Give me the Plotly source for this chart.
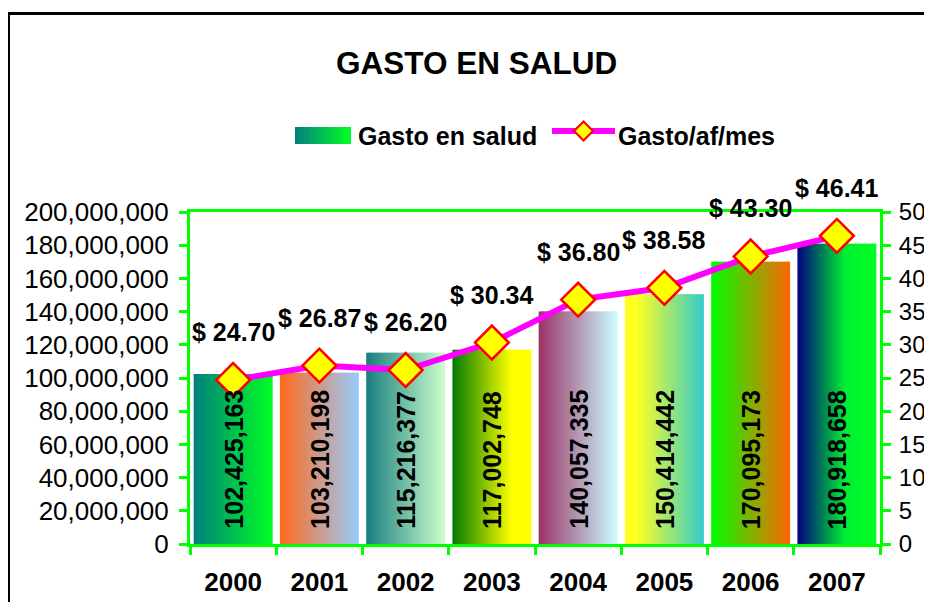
import plotly.graph_objects as go

# ---------------- data ----------------
years = ["2000", "2001", "2002", "2003", "2004", "2005", "2006", "2007"]
gasto_salud = [102425163, 103210198, 115216377, 117002748, 140057335, 150414442, 170095173, 180918658]
gasto_af_mes = [24.70, 26.87, 26.20, 30.34, 36.80, 38.58, 43.30, 46.41]
left_ticks = [0, 20000000, 40000000, 60000000, 80000000, 100000000, 120000000, 140000000, 160000000, 180000000, 200000000]
right_ticks = [0, 5, 10, 15, 20, 25, 30, 35, 40, 45, 50]

# ---------------- styles ----------------
gradients = [
    [(0, "#007F7F"), (1, "#00FF22")],
    [(0, "#FF6A1A"), (1, "#99CCFF")],
    [(0, "#1A7F80"), (1, "#CCFFCC")],
    [(0, "#007A00"), (0.75, "#FFFF00"), (1, "#FFFF00")],
    [(0, "#993366"), (1, "#CCFFFF")],
    [(0, "#FFFF22"), (0.15, "#FFFF22"), (1, "#33CCCC")],
    [(0, "#00FF00"), (1, "#FF6600")],
    [(0, "#000080"), (0.6, "#00EE33"), (1, "#00FF22")],
]
GREEN = "#00FF00"
FONT = "Arial, Liberation Sans, sans-serif"


def hex2rgb(h):
    h = h.lstrip("#")
    return [int(h[i:i + 2], 16) for i in (0, 2, 4)]


def grad_color(stops, t):
    for (p0, c0), (p1, c1) in zip(stops[:-1], stops[1:]):
        if p0 <= t <= p1:
            f = 0 if p1 == p0 else (t - p0) / (p1 - p0)
            a, b = hex2rgb(c0), hex2rgb(c1)
            r = [round(a[i] + (b[i] - a[i]) * f) for i in range(3)]
            return "rgb(%d,%d,%d)" % tuple(r)
    return stops[-1][1]


# page has an 8px body margin: the figure div starts at (8, 8); keep it from overflowing
OFF = 8
W, H = 932 - OFF, 610 - 2 * OFF
# plot-area page-pixel geometry (used for margins and decorations)
L, R, T, B = 190, 880, 212, 544


def pxx(x):
    return (x - L) / (R - L)


def pxy(y):
    return (B - y) / (B - T)


fig = go.Figure()

# gradient bars, built from vertical slices
N = 36
BW = 0.915
sw = BW / N
for k in range(N):
    t = (k + 0.5) / N
    fig.add_trace(go.Bar(
        x=years, y=gasto_salud,
        offset=-BW / 2 + k * sw,
        width=sw * 1.8 if k < N - 1 else sw,
        marker=dict(color=[grad_color(g, t) for g in gradients], line=dict(width=0)),
        showlegend=False, hoverinfo="skip",
    ))

# line on secondary axis
fig.add_trace(go.Scatter(
    x=years, y=gasto_af_mes, yaxis="y2", mode="lines+markers",
    line=dict(color="#FF00FF", width=6),
    marker=dict(symbol="diamond", size=26, color="#FFFF00", line=dict(color="#FF0000", width=2.5)),
    name="Gasto/af/mes", showlegend=False, cliponaxis=False,
))

annotations = []
# value labels inside bars (rotated)
for i, v in enumerate(gasto_salud):
    annotations.append(dict(
        x=i, y=0, xref="x", yref="y", text=f"{v:,}", showarrow=False, textangle=-90,
        xanchor="center", yanchor="bottom", yshift=13,
        font=dict(family=FONT, size=25, color="black", weight="bold"),
    ))
# labels above line points
for i, v in enumerate(gasto_af_mes):
    annotations.append(dict(
        x=i, y=v, xref="x", yref="y2", text=f"$ {v:.2f}", showarrow=False,
        yshift=48, font=dict(family=FONT, size=25, color="black", weight="bold"),
    ))

# manual legend
shapes = []
NL = 24
x0s, x1s, ys0, ys1 = 295, 351, 127, 144
for k in range(NL):
    t = (k + 0.5) / NL
    xa = x0s + (x1s - x0s) * k / NL
    xb = x0s + (x1s - x0s) * (k + 1) / NL + 0.6
    shapes.append(dict(type="rect", xref="paper", yref="paper",
                       x0=pxx(xa), x1=pxx(min(xb, x1s)), y0=pxy(ys1), y1=pxy(ys0),
                       fillcolor=grad_color(gradients[0], t), line=dict(width=0), layer="above"))
annotations.append(dict(x=pxx(356), y=pxy(135.5), xref="paper", yref="paper", xanchor="left",
                        yanchor="middle", text="Gasto en salud", showarrow=False,
                        font=dict(family=FONT, size=25, color="black", weight="bold")))
shapes.append(dict(type="line", xref="paper", yref="paper", x0=pxx(552), x1=pxx(615),
                   y0=pxy(131), y1=pxy(131), line=dict(color="#FF00FF", width=6)))
cx, cy, d = 583.5, 131, 9.5
shapes.append(dict(type="path", xref="paper", yref="paper",
                   path=f"M {pxx(cx - d)} {pxy(cy)} L {pxx(cx)} {pxy(cy - d)} L {pxx(cx + d)} {pxy(cy)} L {pxx(cx)} {pxy(cy + d)} Z",
                   fillcolor="#FFFF00", line=dict(color="#FF0000", width=2)))
annotations.append(dict(x=pxx(616), y=pxy(135.5), xref="paper", yref="paper", xanchor="left",
                        yanchor="middle", text="Gasto/af/mes", showarrow=False,
                        font=dict(family=FONT, size=25, color="black", weight="bold")))
# title
annotations.append(dict(x=pxx(476), y=pxy(63), xref="paper", yref="paper", xanchor="center",
                        yanchor="middle", text="GASTO EN SALUD", showarrow=False,
                        font=dict(family=FONT, size=31.5, color="black", weight="bold")))

# outer black frame
shapes.append(dict(type="rect", xref="paper", yref="paper",
                   x0=pxx(8.5), x1=pxx(980), y0=pxy(640), y1=pxy(13.5),
                   line=dict(color="black", width=3), fillcolor="rgba(0,0,0,0)", layer="below"))

common = dict(automargin=False, showgrid=False, zeroline=False)

fig.update_layout(
    width=W, height=H,
    margin=dict(l=L - OFF, r=W - (R - OFF), t=T - OFF, b=H - (B - OFF), pad=0, autoexpand=False),
    paper_bgcolor="white", plot_bgcolor="white",
    barmode="overlay",
    showlegend=False,
    font=dict(family=FONT, color="black"),
    xaxis=dict(type="category", categoryarray=years, range=[-0.5, 7.5], tickson="boundaries",
               ticks="outside", ticklen=8, tickwidth=2.5, tickcolor=GREEN,
               showline=True, linecolor=GREEN, linewidth=3, mirror=True,
               ticklabelstandoff=13,
               tickfont=dict(family=FONT, size=26, color="black", weight="bold"), **common),
    xaxis2=dict(overlaying="x", anchor="y", range=[-0.5, 7.5], tickmode="array",
                tickvals=[i - 0.5 for i in range(len(years) + 1)], ticks="inside", ticklen=8,
                tickwidth=2.5, tickcolor=GREEN, showticklabels=False, showline=False, **common),
    yaxis=dict(range=[0, 200000000], tickmode="array", tickvals=left_ticks, tickformat=",d",
               ticks="outside", ticklen=8, tickwidth=2.5, tickcolor=GREEN,
               showline=True, linecolor=GREEN, linewidth=3,
               ticklabelstandoff=5, tickfont=dict(family=FONT, size=26, color="black"), **common),
    yaxis2=dict(overlaying="y", side="right", anchor="x", range=[0, 50], tickmode="array",
                tickvals=right_ticks, ticks="outside", ticklen=8, tickwidth=2.5, tickcolor=GREEN,
                showline=True, linecolor=GREEN, linewidth=3,
                ticklabelstandoff=3, tickfont=dict(family=FONT, size=24, color="black"), **common),
    yaxis3=dict(overlaying="y", anchor="x", side="left", range=[0, 200000000], tickmode="array",
                tickvals=left_ticks, ticks="inside", ticklen=8, tickwidth=2.5, tickcolor=GREEN,
                showticklabels=False, showline=False, **common),
    yaxis4=dict(overlaying="y", anchor="x", side="right", range=[0, 50], tickmode="array",
                tickvals=right_ticks, ticks="inside", ticklen=8, tickwidth=2.5, tickcolor=GREEN,
                showticklabels=False, showline=False, **common),
    annotations=annotations,
    shapes=shapes,
)

fig.write_html("out.html")
